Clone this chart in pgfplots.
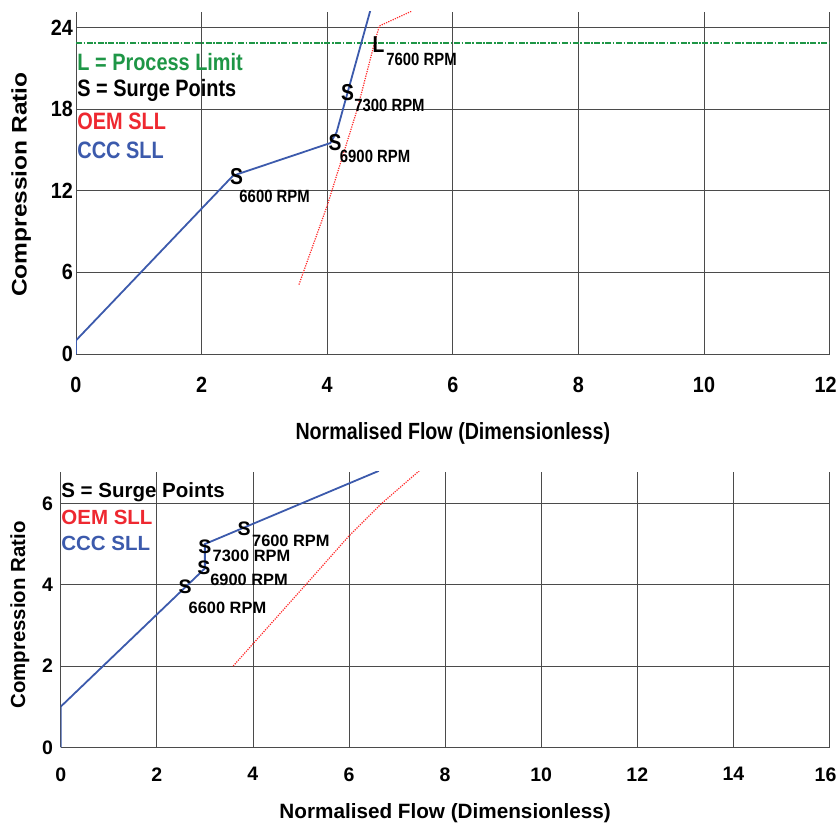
\documentclass[border=0pt]{standalone}
\usepackage{fontspec}
\setmainfont{Liberation Sans}
\newfontfamily\fA{Liberation Sans}[FakeStretch=0.84]
\newfontfamily\fT{Liberation Sans}[FakeStretch=0.9]
\usepackage{graphicx}
\usepackage{pgfplots}
\pgfplotsset{compat=1.18}
\definecolor{cccblue}{RGB}{60,90,172}
\definecolor{oemred}{RGB}{255,40,40}
\definecolor{plgreen}{RGB}{30,150,70}
\definecolor{txtred}{RGB}{238,40,48}
\definecolor{gridc}{RGB}{75,75,75}
\pgfplotsset{
  common/.style={
    scale only axis, anchor=south west,
    axis x line*=bottom, axis y line*=left,
    grid=major, major grid style={gridc, line width=0.8bp},
    axis line style={gridc, line width=1bp},
    major tick length=0pt,
    /pgf/number format/assume math mode=true,
    tick label style={inner sep=0pt},
    xticklabel style={anchor=north},
    yticklabel style={anchor=east},
    clip=true,
  },
  ccc/.style={cccblue, line width=1.8bp},
  oem/.style={oemred, line width=1.2bp, dash pattern=on 1.2bp off 1.2bp},
}
\begin{document}
\begin{tikzpicture}
\useasboundingbox (0,0) rectangle (838bp,-823bp);
% ---------------- top chart ----------------
\begin{axis}[common,
  at={(76bp,-354bp)}, width=753.6bp, height=342.3bp,
  xmin=0, xmax=12, ymin=0, ymax=25.15,
  xtick={0,2,...,12}, ytick={0,6,...,24},
  xticklabels={0,2,4,6,8,10,{12\kern8bp}},
  tick label style={font=\fontsize{22bp}{24bp}\fT\bfseries},
  xticklabel style={yshift=-22.7bp},
  yticklabel style={xshift=-3bp},
  xlabel={Normalised Flow (Dimensionless)},
  xlabel style={font=\fontsize{23.4bp}{26bp}\fA\bfseries, at={(axis description cs:0.5,-0.2483)}, anchor=base, inner sep=0pt},
  ylabel={\scalebox{1}[0.86]{Compression Ratio}},
  ylabel style={font=\fontsize{24.5bp}{26bp}\bfseries, at={(axis description cs:-0.0654,0.495)}, anchor=base, inner sep=0pt},
]
\addplot[plgreen, line width=1.7bp, dash pattern=on 6bp off 1.6bp on 1.6bp off 1.6bp] coordinates {(0,22.83) (12,22.83)};
\addplot[oem] coordinates {(3.55,5.1) (4.0,10.9) (4.48,18.0) (4.75,22.8) (4.83,24.1) (5.35,25.2)};
\addplot[ccc] coordinates {(0,0) (0,1) (2.5,13.1) (4.05,15.5) (4.15,16.3) (4.69,25.3)};
\begin{scope}[every node/.style={anchor=base west, inner sep=0pt}]
\node[text=plgreen, font=\fontsize{23.7bp}{26bp}\fA\bfseries] at (axis cs:0.02,20.82) {L = Process Limit};
\node[text=black, font=\fontsize{23.7bp}{26bp}\fA\bfseries] at (axis cs:0.02,18.9) {S = Surge Points};
\node[text=txtred, font=\fontsize{23.7bp}{26bp}\fA\bfseries] at (axis cs:0.02,16.46) {OEM SLL};
\node[text=cccblue, font=\fontsize{23.7bp}{26bp}\fA\bfseries] at (axis cs:0.02,14.38) {CCC SLL};
\node[font=\fontsize{23bp}{25bp}\fA\bfseries] at (axis cs:2.45,12.42) {S};
\node[font=\fontsize{17.7bp}{20bp}\fA\bfseries] at (axis cs:2.60,11.12) {6600 RPM};
\node[font=\fontsize{23bp}{25bp}\fA\bfseries] at (axis cs:4.02,14.94) {S};
\node[font=\fontsize{17.7bp}{20bp}\fA\bfseries] at (axis cs:4.20,14.06) {6900 RPM};
\node[font=\fontsize{23bp}{25bp}\fA\bfseries] at (axis cs:4.22,18.66) {S};
\node[font=\fontsize{17.7bp}{20bp}\fA\bfseries] at (axis cs:4.43,17.80) {7300 RPM};
\node[font=\fontsize{23bp}{25bp}\fA\bfseries] at (axis cs:4.72,22.17) {L};
\node[font=\fontsize{17.7bp}{20bp}\fA\bfseries] at (axis cs:4.94,21.23) {7600 RPM};
\end{scope}
\end{axis}
% ---------------- bottom chart ----------------
\begin{axis}[common,
  at={(60.7bp,-747.3bp)}, width=768.8bp, height=275.6bp,
  xmin=0, xmax=16, ymin=0, ymax=6.78,
  xtick={0,2,...,16}, ytick={0,2,4,6},
  xticklabels={0,2,4,6,8,10,12,14,{16\kern8bp}},
  tick label style={font=\fontsize{19.5bp}{22bp}\bfseries},
  xticklabel style={yshift=-20bp},
  yticklabel style={xshift=-7.5bp},
  xlabel={Normalised Flow (Dimensionless)},
  xlabel style={font=\fontsize{20.7bp}{23bp}\bfseries, at={(axis description cs:0.5,-0.2565)}, anchor=base, inner sep=0pt},
  ylabel={Compression Ratio},
  ylabel style={font=\fontsize{20.4bp}{23bp}\bfseries, at={(axis description cs:-0.0464,0.48)}, anchor=base, inner sep=0pt},
]
\addplot[oem] coordinates {(3.59,2.0) (5.1,4.0) (6.0,5.2) (6.68,6.0) (7.46,6.8)};
\addplot[ccc] coordinates {(0,0) (0,1) (3.0,4.4) (3.0,5.0) (6.62,6.8)};
\begin{scope}[every node/.style={anchor=base west, inner sep=0pt}]
\node[text=black, font=\fontsize{20.5bp}{23bp}\bfseries] at (axis cs:0.01,6.15) {S = Surge Points};
\node[text=txtred, font=\fontsize{20.5bp}{23bp}\bfseries] at (axis cs:0.01,5.47) {OEM SLL};
\node[text=cccblue, font=\fontsize{20.5bp}{23bp}\bfseries] at (axis cs:0.01,4.85) {CCC SLL};
\node[font=\fontsize{19.5bp}{22bp}\bfseries] at (axis cs:2.45,3.79) {S};
\node[font=\fontsize{16.4bp}{19bp}\bfseries] at (axis cs:2.66,3.29) {6600 RPM};
\node[font=\fontsize{19.5bp}{22bp}\bfseries] at (axis cs:2.84,4.24) {S};
\node[font=\fontsize{16.4bp}{19bp}\bfseries] at (axis cs:3.11,3.99) {6900 RPM};
\node[font=\fontsize{19.5bp}{22bp}\bfseries] at (axis cs:2.86,4.77) {S};
\node[font=\fontsize{16.4bp}{19bp}\bfseries] at (axis cs:3.16,4.56) {7300 RPM};
\node[font=\fontsize{19.5bp}{22bp}\bfseries] at (axis cs:3.68,5.22) {S};
\node[font=\fontsize{16.4bp}{19bp}\bfseries] at (axis cs:3.98,4.93) {7600 RPM};
\end{scope}
\end{axis}
\end{tikzpicture}
\end{document}
